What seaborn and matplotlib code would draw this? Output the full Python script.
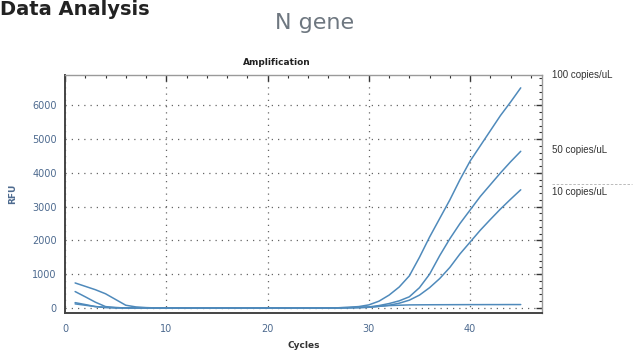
import numpy as np
import pandas as pd
import matplotlib
matplotlib.use("Agg")
import matplotlib.pyplot as plt
from matplotlib.lines import Line2D
from matplotlib.ticker import MultipleLocator
import seaborn as sns

# amplification curves (RFU per cycle)
cycles = list(range(1, 46))

rfu_100 = [157, 100, 40, 10, 0, 0, 0, 0, 0, 0,
           0, 0, 0, 0, 0, 0, 0, 0, 0, 0,
           0, 0, 0, 0, 0, 0, 5, 20, 40, 90,
           200, 380, 620, 950, 1500, 2100, 2650, 3200, 3800, 4350,
           4800, 5250, 5700, 6100, 6520]
rfu_50 = [485, 330, 170, 40, 10, 0, 0, 0, 0, 0,
          0, 0, 0, 0, 0, 0, 0, 0, 0, 0,
          0, 0, 0, 0, 0, 0, 5, 10, 20, 30,
          70, 130, 210, 330, 600, 1000, 1550, 2050, 2500, 2900,
          3300, 3650, 4000, 4330, 4640]
rfu_10 = [740, 640, 540, 420, 250, 80, 30, 10, 0, 0,
          0, 0, 0, 0, 0, 0, 0, 0, 0, 0,
          0, 0, 0, 0, 0, 0, 0, 5, 10, 20,
          45, 80, 140, 230, 380, 600, 870, 1200, 1600, 1950,
          2300, 2620, 2930, 3220, 3500]
rfu_neg = [120, 80, 40, 20, 10, 0, 0, 0, 0, 0,
           0, 0, 0, 0, 0, 0, 0, 0, 0, 0,
           0, 0, 0, 0, 0, 0, 0, 5, 10, 20,
           50, 70, 80, 90, 92, 94, 95, 96, 97, 98,
           98, 99, 99, 100, 100]

samples = ["100 copies/uL", "50 copies/uL", "10 copies/uL", "NTC"]
curve_labels = ["100 copies/uL", "50 copies/uL", "10 copies/uL"]

df = pd.DataFrame({
    "cycle": cycles * 4,
    "rfu": rfu_100 + rfu_50 + rfu_10 + rfu_neg,
    "sample": [s for s in samples for _ in cycles],
})

line_col = "#4f8abb"
tick_col = "#4d6a8f"

sns.set_style("white")
plt.rcParams["font.family"] = ["DejaVu Sans"]

fig = plt.figure(figsize=(6.4, 3.52), dpi=100)
ax = fig.add_axes([65/640, 1-313/352, (542-65)/640, (313-75)/352])

sns.lineplot(data=df, x="cycle", y="rfu", hue="sample", palette=[line_col]*4,
             legend=False, ax=ax, linewidth=1.1)

ax.set_xlim(0, 47.1)
ax.set_ylim(-150, 6900)
ax.xaxis.set_major_locator(MultipleLocator(10))
ax.xaxis.set_minor_locator(MultipleLocator(2))
ax.yaxis.set_major_locator(MultipleLocator(1000))
ax.yaxis.set_minor_locator(MultipleLocator(200))
ax.tick_params(which="both", direction="in", top=True, right=True,
               labelsize=7, labelcolor=tick_col, color="#333333")
ax.tick_params(which="major", length=4, width=1)
ax.tick_params(which="minor", length=2.5, width=0.8)
ax.tick_params(axis="x", pad=8)
ax.tick_params(axis="y", pad=6)
ax.grid(True, which="major", color="#666666", linestyle=(0, (1, 4)), linewidth=0.9)

for side in ["top", "right"]:
    ax.spines[side].set_color("#9a9a9a")
    ax.spines[side].set_linewidth(1.0)
for side in ["left", "bottom"]:
    ax.spines[side].set_color("#444444")
    ax.spines[side].set_linewidth(1.4)

ax.set_xlabel("Cycles", fontsize=6.5, color="#333333", fontweight="bold", labelpad=5)
ax.set_ylabel("RFU", fontsize=6.5, color=tick_col, fontweight="bold", labelpad=11)
ax.set_title("Amplification", fontsize=6.5, fontweight="bold", color="#222222",
             x=0.445, pad=7)

fig.text(0.0, 1-15/352, "Data Analysis", fontsize=14, fontweight="bold",
         color="#222222", va="baseline", ha="left")
fig.text(315/640, 1-23/352, "N gene", fontsize=16, color="#6e7780",
         va="center", ha="center")

label_y = [75, 150, 192]
for lab, yy in zip(curve_labels, label_y):
    fig.text(552/640, 1-yy/352, lab, fontsize=7, color="#333333",
             family="Liberation Sans", va="center", ha="left")
fig.add_artist(Line2D([552/640, 632/640], [1-184/352, 1-184/352],
                      color="#b0b0b0", linewidth=0.6, linestyle=(0, (3, 2))))

fig.savefig("out.png", dpi=100)
plt.close()
